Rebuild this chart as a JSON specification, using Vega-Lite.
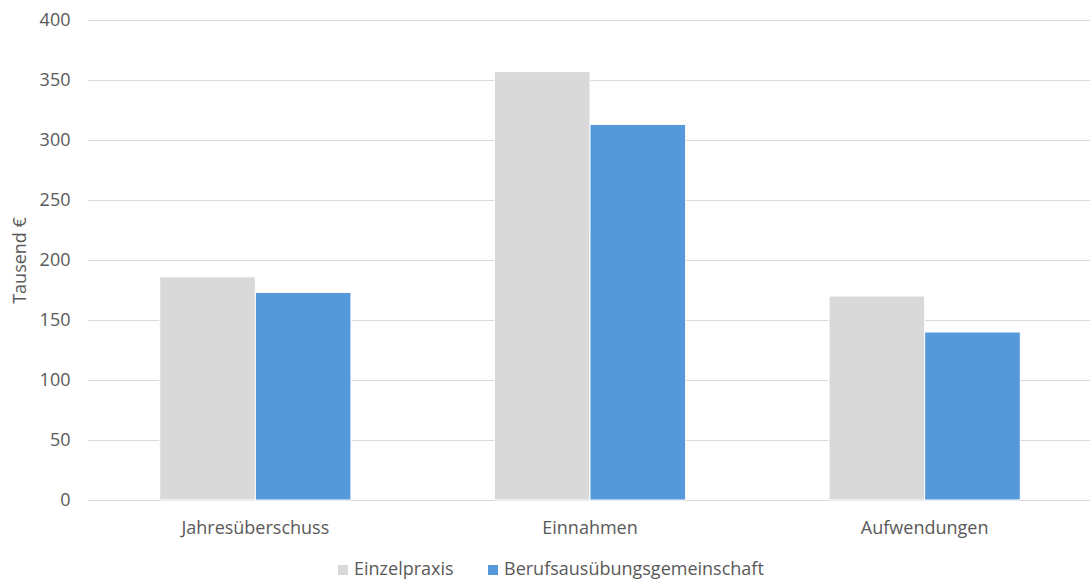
{
  "$schema": "https://vega.github.io/schema/vega-lite/v6.json",
  "autosize": "none",
  "width": 1004,
  "height": 480,
  "padding": {"left": 88, "top": 20, "right": 0, "bottom": 81},
  "background": "white",
  "config": {
    "font": "Open Sans",
    "view": {"stroke": null},
    "axis": {"labelFont": "Open Sans", "titleFont": "Open Sans", "labelColor": "#595959", "titleColor": "#595959"}
  },
  "data": {
    "values": [
      {"kategorie": "Jahresüberschuss", "form": "Einzelpraxis", "wert": 186},
      {"kategorie": "Jahresüberschuss", "form": "Berufsausübungsgemeinschaft", "wert": 173},
      {"kategorie": "Einnahmen", "form": "Einzelpraxis", "wert": 357},
      {"kategorie": "Einnahmen", "form": "Berufsausübungsgemeinschaft", "wert": 313},
      {"kategorie": "Aufwendungen", "form": "Einzelpraxis", "wert": 170},
      {"kategorie": "Aufwendungen", "form": "Berufsausübungsgemeinschaft", "wert": 140}
    ]
  },
  "mark": {"type": "bar", "stroke": "white", "strokeWidth": 1},
  "encoding": {
    "x": {
      "field": "kategorie",
      "type": "nominal",
      "sort": ["Jahresüberschuss", "Einnahmen", "Aufwendungen"],
      "scale": {"paddingInner": 0, "paddingOuter": 0},
      "axis": {
        "title": null,
        "labelAngle": 0,
        "labelFontSize": 18,
        "labelPadding": 19,
        "ticks": false,
        "domainColor": "#D9D9D9",
        "domainWidth": 1
      }
    },
    "xOffset": {
      "field": "form",
      "type": "nominal",
      "sort": ["Einzelpraxis", "Berufsausübungsgemeinschaft"],
      "scale": {"paddingInner": 0, "paddingOuter": 0.75}
    },
    "y": {
      "field": "wert",
      "type": "quantitative",
      "scale": {"domain": [0, 400]},
      "axis": {
        "title": "Tausend €",
        "titleFontSize": 18,
        "titleFontWeight": "normal",
        "titleX": -68,
        "titleY": 240,
        "titleAngle": -90,
        "titleAlign": "center",
        "titleBaseline": "middle",
        "values": [0, 50, 100, 150, 200, 250, 300, 350, 400],
        "labelFontSize": 18,
        "labelPadding": 18,
        "labelOverlap": false,
        "ticks": false,
        "domain": false,
        "gridColor": "#D9D9D9",
        "gridWidth": 1
      }
    },
    "color": {
      "field": "form",
      "type": "nominal",
      "sort": ["Einzelpraxis", "Berufsausübungsgemeinschaft"],
      "scale": {"domain": ["Einzelpraxis", "Berufsausübungsgemeinschaft"], "range": ["#D9D9D9", "#5599DA"]},
      "legend": {
        "title": null,
        "orient": "none",
        "direction": "horizontal",
        "legendX": 246,
        "legendY": 541,
        "symbolType": "square",
        "symbolSize": 100,
        "symbolStrokeWidth": 0,
        "labelFontSize": 18,
        "labelColor": "#595959",
        "labelFont": "Open Sans",
        "labelOffset": 2,
        "labelLimit": 400,
        "columnPadding": 30
      }
    }
  }
}
